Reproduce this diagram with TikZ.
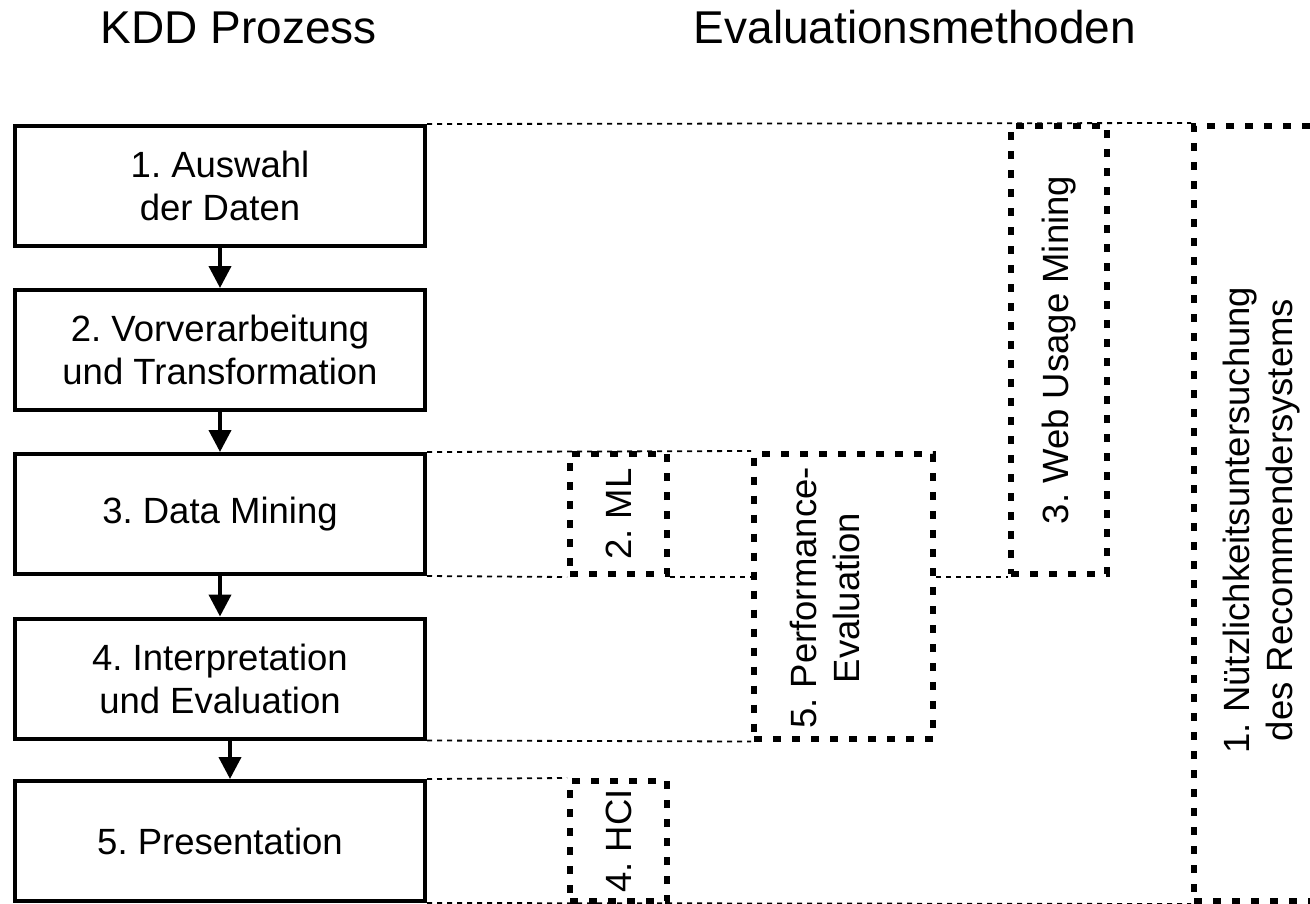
\documentclass[tikz,border=0pt]{standalone}
\usepackage{fontspec}
\setmainfont{Liberation Sans}
\usetikzlibrary{arrows.meta}
\frenchspacing

\tikzset{
  kddbox/.style={draw, line width=4pt, minimum width=410pt, minimum height=120pt, inner sep=0pt, align=center, font=\fontsize{36.5}{43}\selectfont},
  evalbox/.style={draw, line width=6pt, dash pattern=on 8pt off 11pt, inner sep=0pt},
  evallabel/.style={rotate=90, align=center, inner sep=0pt, font=\fontsize{36.5}{43}\selectfont},
  guideline/.style={line width=1.8pt, dash pattern=on 5pt off 5pt},
  flow/.style={line width=4pt, -{Triangle[length=22pt,width=22pt]}},
  titletext/.style={anchor=base, inner sep=0pt, font=\fontsize{46}{54}\selectfont}
}

\begin{document}
\begin{tikzpicture}[x=1pt,y=1pt,yscale=-1,xscale=1]
\useasboundingbox (0,0) rectangle (1310,903);
\clip (0,0) rectangle (1310,903);

% Text Node
\node[titletext] (kddtitle) at (239,43) {KDD Prozess};
% Text Node
\node[titletext] (evaltitle) at (915,43) {Evaluationsmethoden};

%Shape: Rectangle
\node[kddbox] (auswahl) at (220,186) {1. Auswahl\\der Daten};
%Shape: Rectangle
\node[kddbox] (vorverarbeitung) at (220,350) {2. Vorverarbeitung\\und Transformation};
%Shape: Rectangle
\node[kddbox] (datamining) at (220,514) {3. Data Mining};
%Shape: Rectangle
\node[kddbox] (interpretation) at (220,678.5) {4. Interpretation\\und Evaluation};
%Shape: Rectangle
\node[kddbox] (presentation) at (220,841) {5. Presentation};

%Straight Lines
\draw[flow] (auswahl) -- (vorverarbeitung);
\draw[flow] (vorverarbeitung) -- (datamining);
\draw[flow] (datamining) -- (interpretation);
\draw[flow] ([xshift=10pt]interpretation.south) -- ([xshift=10pt]presentation.north);

%Shape: Rectangle (dashed)
\node[evalbox, minimum width=97pt, minimum height=120pt] (ml) at (618.5,514) {};
\node[evalbox, minimum width=179pt, minimum height=284.5pt] (perf) at (843.5,596.25) {};
\node[evalbox, minimum width=96pt, minimum height=448pt] (web) at (1059,350) {};
\node[evalbox, minimum width=136pt, minimum height=775pt] (nutz) at (1262,513.5) {};
\node[evalbox, minimum width=97pt, minimum height=120pt] (hci) at (618.5,841) {};

%Straight Lines (dotted)
\draw[guideline] (auswahl.north east) -- (nutz.north west);
\draw[guideline] (datamining.north east) -- (perf.north west);
\draw[guideline] (datamining.south east) -- (ml.south west);
\draw[guideline] (ml.south east) -- (perf.west |- ml.south);
\draw[guideline] (perf.east |- ml.south) -- (web.south west);
\draw[guideline] (interpretation.south east) -- (perf.south west);
\draw[guideline] (presentation.north east) -- (hci.north west);
\draw[guideline] (presentation.south east) -- (nutz.south west);

% Text Node
\node[evallabel] (mllabel) at (ml.center) {2. ML};
\node[evallabel] (perflabel) at (825,598) {5. Performance-\\Evaluation};
\node[evallabel] (weblabel) at (web.center) {3. Web Usage Mining};
\node[evallabel] (nutzlabel) at (1262,520) {1. Nützlichkeitsuntersuchung\\des Recommendersystems};
\node[evallabel] (hcilabel) at (hci.center) {4. HCI};

\end{tikzpicture}
\end{document}
